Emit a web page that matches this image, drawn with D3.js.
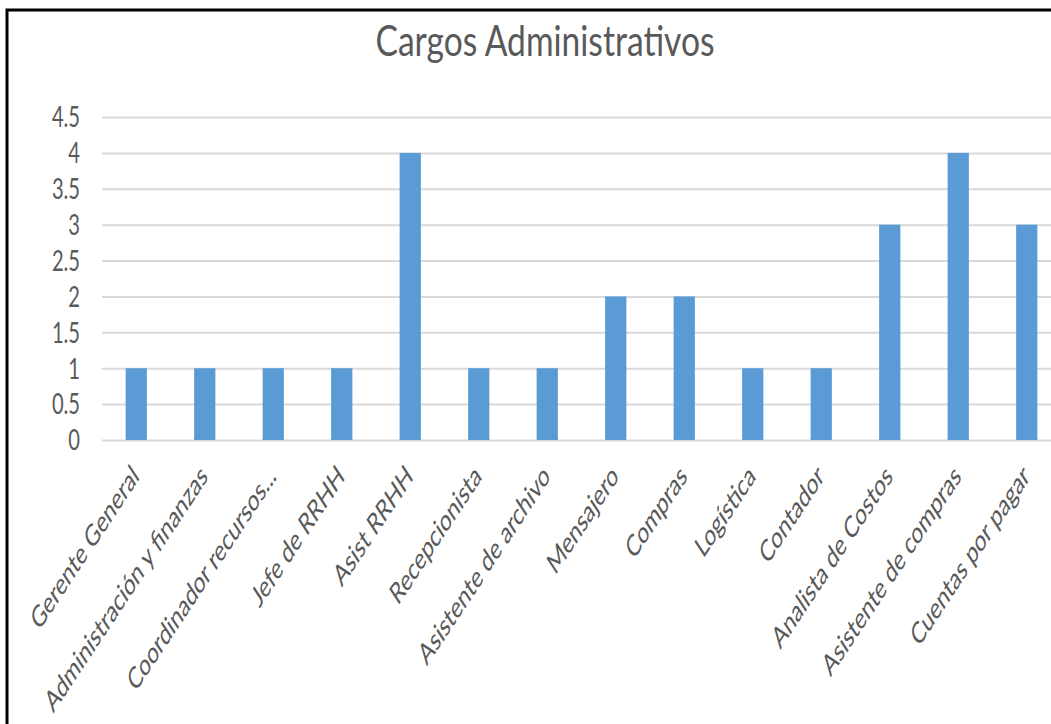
<!DOCTYPE html>
<head>
<style>
  body { margin: 0; background: #fff; }
  text { font-family: Lato, "Open Sans", sans-serif; fill: #595959; }
</style>
</head>
<body>
<div id="chart_container"></div>
<script src="https://cdn.jsdelivr.net/npm/d3@7"></script>
<script>
const cargos = ['Gerente General', 'Administración y finanzas', 'Coordinador recursos...',
  'Jefe de RRHH', 'Asist RRHH', 'Recepcionista', 'Asistente de archivo', 'Mensajero',
  'Compras', 'Logística', 'Contador', 'Analista de Costos', 'Asistente de compras',
  'Cuentas por pagar']
const cantidad = [1, 1, 1, 1, 4, 1, 1, 2, 2, 1, 1, 3, 4, 3]
const yTicks = [0, 0.5, 1, 1.5, 2, 2.5, 3, 3.5, 4, 4.5]
const titulo = 'Cargos Administrativos'

const width = 1051
const height = 724
const squeeze = 0.72   // the picture looks narrowed sideways
const labelSqueeze = 0.66

const svg = d3.select('#chart_container')
              .append('svg')
              .attr('width', width)
              .attr('height', height)

// frame (only left and top edges show)
svg.append('rect')
   .attr('x', 7).attr('y', 10)
   .attr('width', width + 20).attr('height', height + 20)
   .attr('fill', 'none')
   .attr('stroke', '#000')
   .attr('stroke-width', 3)

svg.append('text')
   .attr('transform', `translate(545, 56) scale(0.8, 1)`)
   .attr('text-anchor', 'middle')
   .style('font-size', '42px')
   .text(titulo)

const xScale = d3.scaleBand()
                 .domain(cargos)
                 .range([102, 1061])
                 .paddingInner(0.69)
                 .paddingOuter(0.345)

const yScale = d3.scaleLinear().domain([0, 4.5]).range([440, 117])

// gridlines
svg.append('g')
   .attr('transform', 'translate(102, 0)')
   .call(d3.axisLeft(yScale).tickValues(yTicks).tickSize(-1000).tickFormat(''))
   .call(g => g.select('.domain').remove())
   .call(g => g.selectAll('line').attr('stroke', '#d9d9d9').attr('stroke-width', 2))

// y labels
const yAxis = svg.append('g')
   .attr('transform', 'translate(80, 0)')
   .call(d3.axisLeft(yScale).tickValues(yTicks).tickSize(0).tickFormat(d => String(d)))
yAxis.select('.domain').remove()
yAxis.selectAll('text')
     .attr('x', 0)
     .attr('dy', '0.35em')
     .attr('transform', `scale(${squeeze}, 1)`)
     .style('font-size', '28px')
     .style('fill', '#595959')
     .attr('font-family', null)

svg.selectAll('rect.bar')
   .data(cantidad)
   .enter()
   .append('rect')
   .attr('class', 'bar')
   .attr('x', (d, i) => xScale(cargos[i]))
   .attr('y', d => yScale(d))
   .attr('width', xScale.bandwidth())
   .attr('height', d => yScale(0) - yScale(d))
   .style('fill', '#5b9bd5')

// category labels, slanted
svg.append('g')
   .selectAll('text')
   .data(cargos)
   .enter()
   .append('text')
   .attr('transform', d => `translate(${xScale(d) + xScale.bandwidth() / 2 + 4}, 478) scale(${labelSqueeze}, 1) rotate(-45)`)
   .attr('text-anchor', 'end')
   .style('font-size', '30px')
   .text(d => d)
</script>
</body>
